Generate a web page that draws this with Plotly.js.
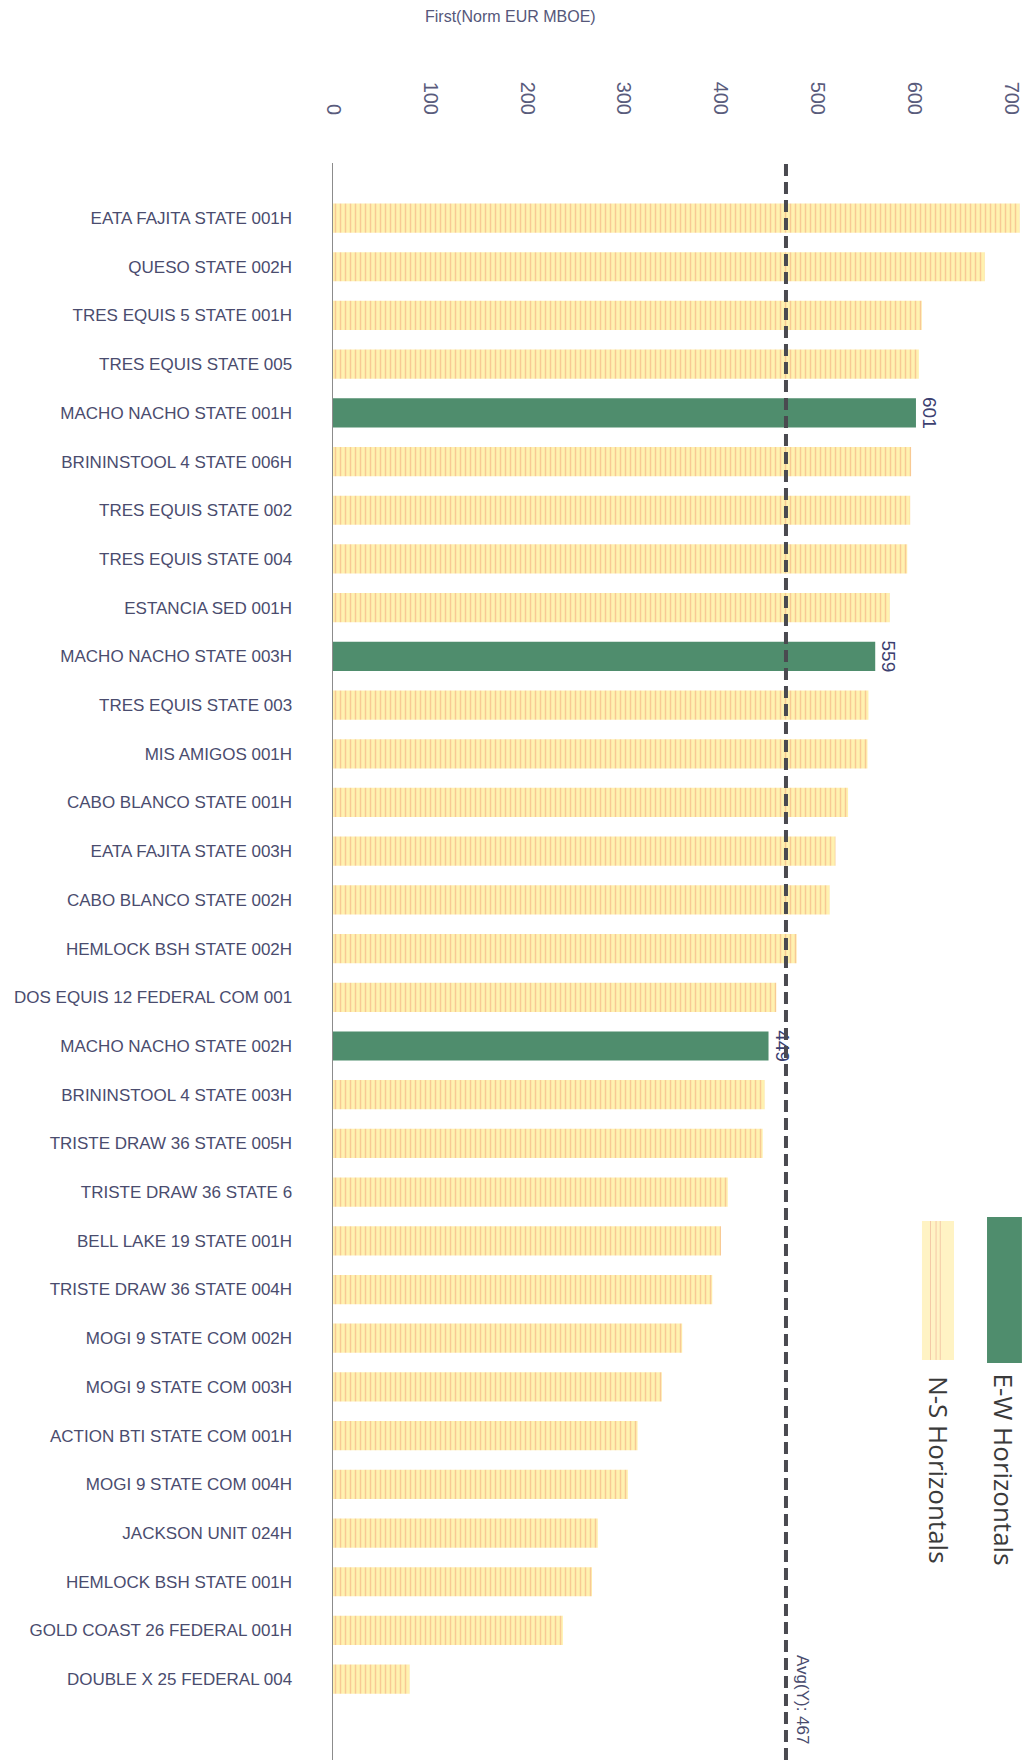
<!DOCTYPE html>
<html>
<head>
<meta charset="utf-8">
<script src="https://cdn.plot.ly/plotly-3.0.1.min.js"></script>
<style>
  html, body { margin: 0; padding: 0; background: #ffffff; }
  #chart { width: 1031px; height: 1760px; }
</style>
</head>
<body>
<div id="chart"></div>
<script>
// ---- data ----
const wells = [
  "EATA FAJITA STATE 001H",
  "QUESO STATE 002H",
  "TRES EQUIS 5 STATE 001H",
  "TRES EQUIS STATE 005",
  "MACHO NACHO STATE 001H",
  "BRININSTOOL 4 STATE 006H",
  "TRES EQUIS STATE 002",
  "TRES EQUIS STATE 004",
  "ESTANCIA SED 001H",
  "MACHO NACHO STATE 003H",
  "TRES EQUIS STATE 003",
  "MIS AMIGOS 001H",
  "CABO BLANCO STATE 001H",
  "EATA FAJITA STATE 003H",
  "CABO BLANCO STATE 002H",
  "HEMLOCK BSH STATE 002H",
  "DOS EQUIS 12 FEDERAL COM 001",
  "MACHO NACHO STATE 002H",
  "BRININSTOOL 4 STATE 003H",
  "TRISTE DRAW 36 STATE 005H",
  "TRISTE DRAW 36 STATE 6",
  "BELL LAKE 19 STATE 001H",
  "TRISTE DRAW 36 STATE 004H",
  "MOGI 9 STATE COM 002H",
  "MOGI 9 STATE COM 003H",
  "ACTION BTI STATE COM 001H",
  "MOGI 9 STATE COM 004H",
  "JACKSON UNIT 024H",
  "HEMLOCK BSH STATE 001H",
  "GOLD COAST 26 FEDERAL 001H",
  "DOUBLE X 25 FEDERAL 004"
];

const eurMboe = [
  708, 672, 607, 604, 601, 596, 595, 592, 574, 559,
  552, 551, 531, 518, 512, 478, 457, 449, 445, 443,
  407, 400, 391, 360, 339, 314, 304, 273, 267, 237, 79
];

const orientation = [
  "NS","NS","NS","NS","EW","NS","NS","NS","NS","EW",
  "NS","NS","NS","NS","NS","NS","NS","EW","NS","NS",
  "NS","NS","NS","NS","NS","NS","NS","NS","NS","NS","NS"
];

const seriesNames = { EW: "E-W Horizontals", NS: "N-S Horizontals" };
const avgValue = 467;
const xTickValues = [0, 100, 200, 300, 400, 500, 600, 700];
const xTitle = "First(Norm EUR MBOE)";

// ---- traces ----
const ewX = eurMboe.map((v, i) => orientation[i] === "EW" ? v : null);
const nsX = eurMboe.map((v, i) => orientation[i] === "NS" ? v : null);
const ewText = eurMboe.map((v, i) => orientation[i] === "EW" ? String(v) : "");

const traces = [
  {
    type: "bar",
    orientation: "h",
    name: seriesNames.NS,
    y: wells,
    x: nsX,
    marker: {
      color: "#FFF2B0",
      line: { width: 0 },
      pattern: { shape: "|", bgcolor: "#FFF2B0", fgcolor: "#F2A77E", fgopacity: 0.55, size: 5, solidity: 0.3 }
    },
    hoverinfo: "y+x"
  },
  {
    type: "bar",
    orientation: "h",
    name: seriesNames.EW,
    y: wells,
    x: ewX,
    text: ewText,
    textposition: "outside",
    textangle: 90,
    textfont: { family: "Liberation Sans, Arial, sans-serif", size: 19, color: "#3b4070" },
    cliponaxis: false,
    marker: { color: "#4F8D6D", line: { width: 0 } },
    hoverinfo: "y+x"
  }
];

const layout = {
  width: 1031,
  height: 1760,
  paper_bgcolor: "#ffffff",
  plot_bgcolor: "#ffffff",
  margin: { l: 333, r: 0, t: 163, b: 0, pad: 0 },
  showlegend: false,
  barmode: "overlay",
  bargap: 0.4,
  font: { family: "Liberation Sans, Arial, sans-serif", color: "#4a4c6e" },
  xaxis: {
    side: "top",
    range: [0, 719.6],
    tickmode: "array",
    tickvals: xTickValues,
    ticktext: xTickValues.map(String),
    tickangle: 90,
    ticks: "",
    ticklabelstandoff: 44,
    tickfont: { family: "Liberation Sans, Arial, sans-serif", size: 20, color: "#595b7c" },
    showgrid: false,
    zeroline: false,
    showline: false,
    fixedrange: true
  },
  yaxis: {
    type: "category",
    categoryorder: "array",
    categoryarray: wells,
    range: [31.66, -1.13],
    ticks: "",
    ticklabelstandoff: 36,
    tickfont: { family: "Liberation Sans, Arial, sans-serif", size: 17, color: "#4a4c6e" },
    showgrid: false,
    zeroline: false,
    showline: true,
    linecolor: "#8c8c8c",
    linewidth: 1.5,
    fixedrange: true
  },
  shapes: [
    {
      type: "line", xref: "x", yref: "paper",
      x0: avgValue, x1: avgValue, y0: 0, y1: 1,
      line: { color: "#4a4a50", width: 4, dash: "12px,6px" },
      layer: "above"
    },
    // legend swatches
    {
      type: "rect", xref: "paper", yref: "paper",
      x0: 0.937, x1: 0.987, y0: 0.2486, y1: 0.340,
      fillcolor: "#4F8D6D", line: { width: 0 }
    },
    {
      type: "rect", xref: "paper", yref: "paper",
      x0: 0.8438, x1: 0.8897, y0: 0.2505, y1: 0.3375,
      fillcolor: "#FFF3C4", line: { width: 0 }
    },
    { type: "line", xref: "paper", yref: "paper", x0: 0.856, x1: 0.856, y0: 0.2505, y1: 0.3375, line: { color: "#F4C9A6", width: 1 } },
    { type: "line", xref: "paper", yref: "paper", x0: 0.864, x1: 0.864, y0: 0.2505, y1: 0.3375, line: { color: "#F4C9A6", width: 1 } },
    { type: "line", xref: "paper", yref: "paper", x0: 0.870, x1: 0.870, y0: 0.2505, y1: 0.3375, line: { color: "#F4C9A6", width: 1 } }
  ],
  annotations: [
    {
      text: xTitle, xref: "paper", yref: "paper",
      x: (510 - 333) / 698, y: 1 + (163 - 17) / 1597,
      xanchor: "center", yanchor: "middle", showarrow: false,
      font: { family: "Liberation Sans, Arial, sans-serif", size: 16, color: "#55577a" }
    },
    {
      text: "Avg(Y): " + avgValue, xref: "x", yref: "paper",
      x: avgValue, xshift: 17, y: (1760 - 1700) / 1597,
      textangle: 90, showarrow: false,
      xanchor: "center", yanchor: "middle",
      font: { family: "Liberation Sans, Arial, sans-serif", size: 17, color: "#4a4c6e" }
    },
    {
      text: seriesNames.EW, xref: "paper", yref: "paper",
      x: 0.962, y: (1760 - 1470) / 1597,
      textangle: 90, showarrow: false,
      xanchor: "center", yanchor: "middle",
      font: { family: "Open Sans, sans-serif", size: 26, color: "#3a3a3a" }
    },
    {
      text: seriesNames.NS, xref: "paper", yref: "paper",
      x: 0.868, y: (1760 - 1470) / 1597,
      textangle: 90, showarrow: false,
      xanchor: "center", yanchor: "middle",
      font: { family: "Open Sans, sans-serif", size: 26, color: "#3a3a3a" }
    }
  ]
};

Plotly.newPlot("chart", traces, layout, { displayModeBar: false, staticPlot: true });
</script>
</body>
</html>
